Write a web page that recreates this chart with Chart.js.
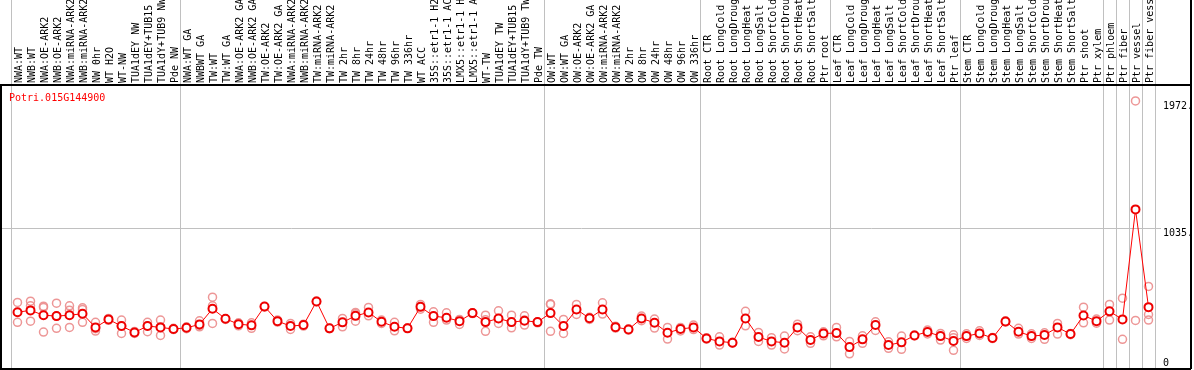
<!DOCTYPE html>
<html>
<head>
<meta charset="utf-8">
<script src="https://cdn.jsdelivr.net/npm/chart.js@4.4.1/dist/chart.umd.min.js"></script>
<style>
  html, body { margin: 0; padding: 0; background: #fff; overflow: hidden; }
  canvas { display: block; }
</style>
</head>
<body>
<canvas id="expr-chart" width="1194" height="370"></canvas>
<script>
var geneId = 'Potri.015G144900';

var categories = [
  'NWA:WT', 'NWB:WT', 'NWA:OE-ARK2', 'NWB:OE-ARK2', 'NWA:miRNA-ARK2', 'NWB:miRNA-ARK2',
  'NW 0hr', 'WT H2O', 'WT-NW', 'TUA1dEY NW', 'TUA1dEY+TUB15 NW', 'TUA1dY+TUB9 NW', 'Pde NW',
  'NWA:WT GA', 'NWBWT GA', 'TW:WT', 'TW:WT GA', 'NWA:OE-ARK2 GA', 'NWB:OE-ARK2 GA',
  'TW:OE-ARK2', 'TW:OE-ARK2 GA', 'NWA:miRNA-ARK2 GA', 'NWB:miRNA-ARK2 GA', 'TW:miRNA-ARK2',
  'TW:miRNA-ARK2 GA', 'TW 2hr', 'TW 8hr', 'TW 24hr', 'TW 48hr', 'TW 96hr', 'TW 336hr', 'WT ACC',
  '35S::etr1-1 H2O', '35S::etr1-1 ACC', 'LMX5::etr1-1 H2O', 'LMX5::etr1-1 ACC', 'WT-TW',
  'TUA1dEY TW', 'TUA1dEY+TUB15 TW', 'TUA1dY+TUB9 TW', 'Pde TW',
  'OW:WT', 'OW:WT GA', 'OW:OE-ARK2', 'OW:OE-ARK2 GA', 'OW:miRNA-ARK2', 'OW:miRNA-ARK2 GA',
  'OW 2hr', 'OW 8hr', 'OW 24hr', 'OW 48hr', 'OW 96hr', 'OW 336hr',
  'Root CTR', 'Root LongCold', 'Root LongDrought', 'Root LongHeat', 'Root LongSalt',
  'Root ShortCold', 'Root ShortDrought', 'Root ShortHeat', 'Root ShortSalt', 'Ptr root',
  'Leaf CTR', 'Leaf LongCold', 'Leaf LongDrought', 'Leaf LongHeat', 'Leaf LongSalt',
  'Leaf ShortCold', 'Leaf ShortDrought', 'Leaf ShortHeat', 'Leaf ShortSalt', 'Ptr leaf',
  'Stem CTR', 'Stem LongCold', 'Stem LongDrought', 'Stem LongHeat', 'Stem LongSalt',
  'Stem ShortCold', 'Stem ShortDrought', 'Stem ShortHeat', 'Stem ShortSalt', 'Ptr shoot',
  'Ptr xylem', 'Ptr phloem', 'Ptr fiber', 'Ptr vessel', 'Ptr fiber vessel'
];

// first category index of each group (plus the end)
var groupBounds = [0, 13, 41, 53, 63, 73, 84, 85, 86, 87, 88];

var meanValues = [
  418, 431, 396, 389, 396, 406, 306, 365, 316, 269, 316, 306, 294,
  303, 328, 443, 369, 330, 321, 460, 352, 316, 323, 497, 299, 343, 391, 416, 347, 311, 299, 457,
  389, 377, 352, 411, 345, 372, 345, 355, 345,
  411, 316, 438, 373, 438, 308, 291, 372, 340, 266, 294, 306,
  225, 203, 193, 372, 235, 203, 193, 306, 213, 262,
  264, 161, 218, 323, 176, 196, 247, 272, 242, 206,
  242, 262, 228, 350, 274, 242, 250, 306, 257, 394,
  352, 424, 365, 1174, 455
];

var rep1 = [
  490, 499, 462, 484, 465, 450, 343, 372, 360, 276, 343, 360, 299,
  310, 354, 528, 369, 340, 340, 460, 360, 335, 330, 500, 299, 372, 406, 453, 360, 343, 299, 475,
  421, 413, 365, 414, 396, 428, 396, 391, 345,
  475, 365, 475, 380, 487, 315, 296, 389, 367, 306, 306, 323,
  230, 237, 196, 424, 269, 230, 242, 330, 237, 274,
  306, 203, 244, 347, 200, 242, 250, 286, 262, 252,
  259, 281, 232, 355, 299, 259, 266, 335, 262, 455,
  367, 475, 521, 357, 607
];

var rep2 = [
  343, 465, 453, 299, 433, 438, 279, 358, 262, 262, 274, 247, 290,
  296, 310, 465, 365, 318, 299, 455, 345, 291, 316, 494, 296, 310, 352, 391, 335, 281, 303, 440,
  343, 360, 328, 408, 277, 335, 303, 323, 340,
  277, 262, 401, 365, 404, 301, 286, 355, 301, 220, 280, 290,
  220, 176, 190, 318, 203, 176, 147, 282, 189, 244,
  237, 112, 189, 284, 152, 145, 244, 258, 213, 137,
  225, 247, 224, 345, 257, 225, 218, 257, 252, 340,
  337, 360, 218, 1972, 401
];

var rep3 = [
  null, 352, 272, 389, 306, 343, 296, 365, 316, 269, 316, 310, 294,
  null, 321, 335, null, null, null, null, null, null, null, null, null, null, 416, null, null, null, null, null,
  null, null, null, null, 362, 372, 345, 360, null,
  480, null, null, null, null, null, null, null, null, null, null, null,
  null, null, null, null, null, null, null, null, null, null,
  null, null, null, null, null, null, null, null, null, 230,
  null, null, null, null, null, null, null, null, null, null,
  null, null, null, null, 360
];

var yTickValues = [0, 1035, 1972];
var yTickLabels = ['0', '1035.', '1972.'];

var monoFont = 'DejaVu Sans Mono';
var gridGray = '#c0c0c0';
var repColor = 'rgba(235, 140, 140, 0.9)';

var framePlugin = {
  id: 'frame',
  beforeDatasetsDraw: function (chart) {
    var c = chart.ctx, xs = chart.scales.x, ys = chart.scales.y, a = chart.chartArea;
    var half = (xs.getPixelForValue(1) - xs.getPixelForValue(0)) / 2;
    c.save();
    c.strokeStyle = gridGray;
    c.lineWidth = 1;
    groupBounds.forEach(function (idx) {
      var x = Math.round(xs.getPixelForValue(idx) - half) + 0.5;
      c.beginPath();
      c.moveTo(x, 0);
      c.lineTo(x, a.bottom);
      c.stroke();
    });
    var y = Math.round(ys.getPixelForValue(1035)) + 0.5;
    c.beginPath();
    c.moveTo(2, y);
    c.lineTo(1161, y);
    c.stroke();
    c.restore();
  },
  afterDraw: function (chart) {
    var c = chart.ctx, ys = chart.scales.y, a = chart.chartArea;
    c.save();
    // border
    c.strokeStyle = '#000';
    c.lineWidth = 2;
    c.beginPath();
    c.moveTo(0, a.top);
    c.lineTo(1191, a.top);
    c.moveTo(1, a.top);
    c.lineTo(1, a.bottom);
    c.lineTo(1191, a.bottom);
    c.moveTo(1191, 0);
    c.lineTo(1191, a.bottom);
    c.stroke();
    // gene id
    c.fillStyle = '#ff0000';
    c.font = '10px "' + monoFont + '"';
    c.textAlign = 'left';
    c.textBaseline = 'alphabetic';
    c.fillText(geneId, 9, a.top + 16);
    // y labels
    c.fillStyle = '#000';
    yTickValues.forEach(function (v, i) {
      var py = ys.getPixelForValue(v) + 8;
      if (py > a.bottom - 3) py = a.bottom - 3;
      c.fillText(yTickLabels[i], 1163, py);
    });
    c.restore();
  }
};

var ctx = document.getElementById('expr-chart').getContext('2d');
var repStyle = {
  showLine: false,
  borderColor: repColor,
  backgroundColor: 'rgba(0,0,0,0)',
  pointRadius: 4,
  pointBorderWidth: 1.5,
  spanGaps: false
};
var myChart = new Chart(ctx, {
  type: 'line',
  data: {
    labels: categories,
    datasets: [
      {
        label: 'mean',
        data: meanValues,
        borderColor: '#ff0000',
        borderWidth: 1,
        pointRadius: 4,
        pointBorderWidth: 2,
        pointBackgroundColor: '#ffffff',
        pointBorderColor: '#ee0000',
        tension: 0
      },
      Object.assign({ label: 'rep1', data: rep1 }, repStyle),
      Object.assign({ label: 'rep2', data: rep2 }, repStyle),
      Object.assign({ label: 'rep3', data: rep3 }, repStyle)
    ]
  },
  options: {
    responsive: false,
    animation: false,
    layout: { autoPadding: false, padding: { left: 11, right: 3, top: 0, bottom: 1 } },
    plugins: { legend: { display: false }, tooltip: { enabled: false } },
    scales: {
      x: {
        position: 'top',
        offset: true,
        grid: { display: false, drawTicks: false },
        border: { display: false },
        ticks: {
          autoSkip: false,
          minRotation: 90,
          maxRotation: 90,
          padding: 2,
          labelOffset: 14,
          color: '#000',
          font: { family: monoFont, size: 10 }
        },
        afterFit: function (s) { s.height = 85; }
      },
      y: {
        position: 'right',
        min: 0,
        max: 2089,
        grid: { display: false, drawTicks: false },
        border: { display: false },
        ticks: { display: false },
        afterFit: function (s) { s.width = 36; }
      }
    }
  },
  plugins: [framePlugin]
});
</script>
</body>
</html>
